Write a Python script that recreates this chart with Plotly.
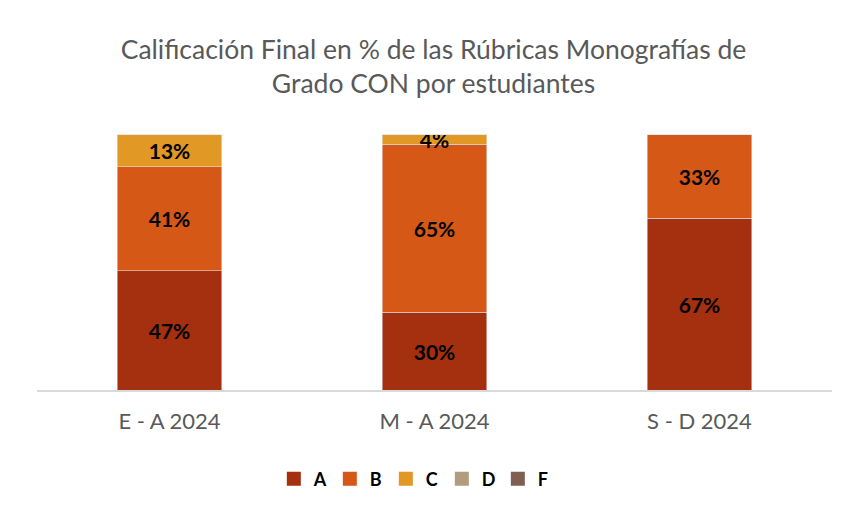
import plotly.graph_objects as go

periodos = ["E - A 2024", "M - A 2024", "S - D 2024"]
notas = ["A", "B", "C", "D", "F"]
A = [47, 30, 67]
B = [41, 65, 33]
C = [13, 4, 0]
D = [0, 0, 0]
F = [0, 0, 0]
colores = ["#A5300F", "#D55816", "#E19825", "#B19C7D", "#7F5F52"]

fig = go.Figure()
for nota, vals, col in zip(notas, [A, B, C, D, F], colores):
    fig.add_trace(go.Bar(
        x=periodos, y=vals, name=nota, marker_color=col, showlegend=False,
        text=[f"{v}%" if v > 0 else "" for v in vals],
        textposition="inside", insidetextanchor="middle",
        textfont=dict(family="Lato", size=21, color="black", weight="bold"),
        hoverinfo="skip",
    ))
# legend-only proxies with larger square symbols
for nota, col in zip(notas, colores):
    fig.add_trace(go.Scatter(
        x=[None], y=[None], mode="markers", name=nota,
        marker=dict(symbol="square", size=14, color=col),
    ))

fig.update_layout(
    barmode="stack", barnorm="percent", bargap=0.604,
    width=851, height=507,
    margin=dict(l=29, r=27, t=126, b=125, autoexpand=False),
    paper_bgcolor="white", plot_bgcolor="white",
    title=dict(
        text="Calificación Final en % de las Rúbricas Monografías de<br>Grado CON por estudiantes",
        x=0.5, xanchor="center", y=0.9, yanchor="middle",
        font=dict(family="Lato", size=26.5, color="#595959"),
    ),
    uniformtext=dict(minsize=21, mode="show"),
    legend=dict(
        orientation="h", x=0.474, xanchor="center",
        yref="container", y=0.071, yanchor="middle",
        font=dict(family="Lato", size=18, color="black", weight="bold"),
        traceorder="normal", itemwidth=30, entrywidth=11, entrywidthmode="pixels",
    ),
    font=dict(family="Lato"),
)
fig.update_xaxes(
    showline=True, linecolor="#D9D9D9", linewidth=1.5,
    tickfont=dict(family="Lato", size=22, color="#595959"), ticks="",
    ticklabelstandoff=11,
)
fig.update_yaxes(visible=False, range=[0, 100], showgrid=False)

fig.write_html("out.html")
